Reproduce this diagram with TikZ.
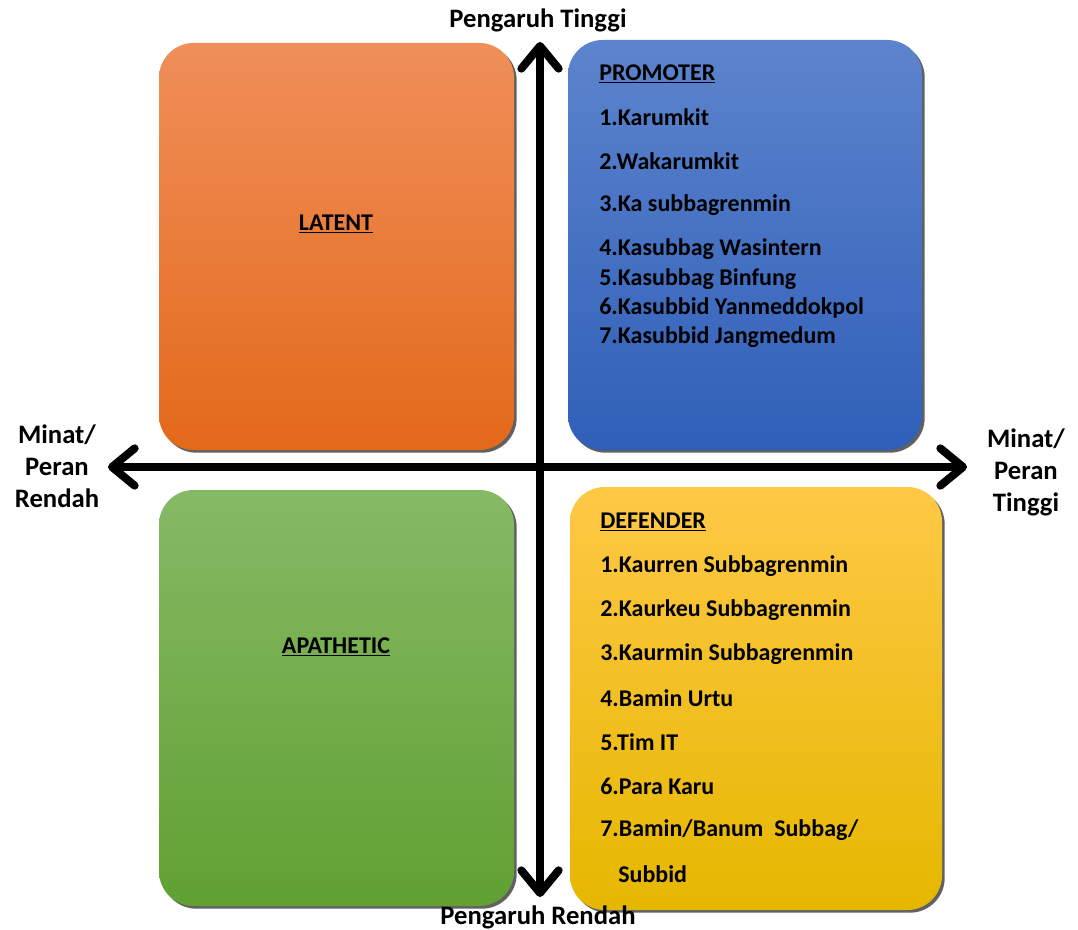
\documentclass[tikz,border=0pt]{standalone}
\usepackage{fontspec}
\setmainfont{Carlito}
\usetikzlibrary{arrows.meta,shadows}

\definecolor{latentTop}{HTML}{F08F5A}
\definecolor{latentMid}{HTML}{EE7B30}
\definecolor{latentBot}{HTML}{E3691A}
\definecolor{promTop}{HTML}{5D84CD}
\definecolor{promMid}{HTML}{4570C4}
\definecolor{promBot}{HTML}{2F5FB8}
\definecolor{apaTop}{HTML}{86B965}
\definecolor{apaMid}{HTML}{70AD47}
\definecolor{apaBot}{HTML}{60A132}
\definecolor{defTop}{HTML}{FFC846}
\definecolor{defMid}{HTML}{FFC000}
\definecolor{defBot}{HTML}{E6B700}

\begin{document}
\begin{tikzpicture}[x=0.75pt,y=0.75pt,yscale=-1,xscale=1,
    quad/.style={rounded corners=26pt,drop shadow={shadow xshift=2pt,shadow yshift=-2pt,fill=black!62,opacity=1}},
    axisarrow/.style={line width=6pt,{Straight Barb[length=17pt,width=28pt,line cap=round,line join=round]}-{Straight Barb[length=17pt,width=28pt,line cap=round,line join=round]}},
    txt/.style={font=\fontsize{18}{22}\selectfont\bfseries,inner sep=0.75pt},
    axtxt/.style={font=\fontsize{20}{24}\selectfont\bfseries,inner sep=0.75pt,align=center}]
    \useasboundingbox (0,0) rectangle (1078,930);

    %Shape: Rounded Rect [id:latent]
    \path [quad,top color=latentTop,middle color=latentMid,bottom color=latentBot] (159,43) rectangle (514,450);
    %Shape: Rounded Rect [id:promoter]
    \path [quad,top color=promTop,middle color=promMid,bottom color=promBot] (568,40) rectangle (922,450);
    %Shape: Rounded Rect [id:apathetic]
    \path [quad,top color=apaTop,middle color=apaMid,bottom color=apaBot] (159,490) rectangle (514,906);
    %Shape: Rounded Rect [id:defender]
    \path [quad,top color=defTop,middle color=defMid,bottom color=defBot] (570,487) rectangle (942,910);

    %Axis ends
    \coordinate (axTop) at (540,42);
    \coordinate (axBot) at (540,897);
    \coordinate (axLeft) at (108,467);
    \coordinate (axRight) at (967,467);
    %Straight Lines [id:axes]
    \draw [axisarrow] (axBot) -- (axTop);
    \draw [axisarrow] (axLeft) -- (axRight);

    % Text Node
    \draw (538,20) node [axtxt] (tinggi) {Pengaruh Tinggi};
    % Text Node
    \draw (538,917) node [axtxt] (rendah) {Pengaruh Rendah};
    % Text Node
    \draw (57,466) node [axtxt] (minatLow) {Minat/\\Peran\\Rendah};
    % Text Node
    \draw (1026,472) node [axtxt] (minatHigh) {Minat/\\Peran\\Tinggi};

    % Text Node
    \draw (336,224) node [txt] (latentLbl) {\underline{LATENT}};
    % Text Node
    \draw (336,647) node [txt] (apaLbl) {\underline{APATHETIC}};

    % Text Node
    \draw (598,74) node [txt,anchor=west] (promLbl) {\underline{PROMOTER}};
    \draw (598,117) node [txt,anchor=west] (p1) {1.Karumkit};
    \draw (598,161) node [txt,anchor=west] (p2) {2.Wakarumkit};
    \draw (598,205) node [txt,anchor=west] (p3) {3.Ka subbagrenmin};
    \draw (598,249) node [txt,anchor=west] (p4) {4.Kasubbag Wasintern};
    \draw (598,279) node [txt,anchor=west] (p5) {5.Kasubbag Binfung};
    \draw (598,308) node [txt,anchor=west] (p6) {6.Kasubbid Yanmeddokpol};
    \draw (598,337) node [txt,anchor=west] (p7) {7.Kasubbid Jangmedum};

    % Text Node
    \draw (599,522) node [txt,anchor=west] (defLbl) {\underline{DEFENDER}};
    \draw (599,566) node [txt,anchor=west] (d1) {1.Kaurren Subbagrenmin};
    \draw (599,610) node [txt,anchor=west] (d2) {2.Kaurkeu Subbagrenmin};
    \draw (599,654) node [txt,anchor=west] (d3) {3.Kaurmin Subbagrenmin};
    \draw (599,698) node [txt,anchor=west] (d4) {4.Bamin Urtu};
    \draw (599,742) node [txt,anchor=west] (d5) {5.Tim IT};
    \draw (599,786) node [txt,anchor=west] (d6) {6.Para Karu};
    \draw (599,830) node [txt,anchor=west] (d7) {7.Bamin/Banum\ \ Subbag/};
    \draw (617,874) node [txt,anchor=west] (d8) {Subbid};

\end{tikzpicture}
\end{document}
